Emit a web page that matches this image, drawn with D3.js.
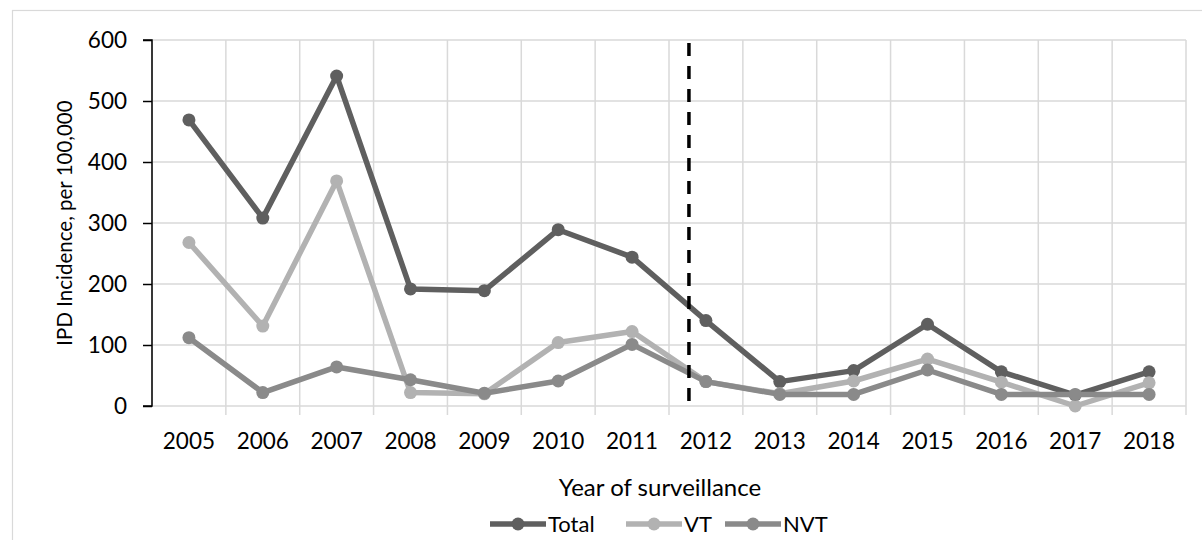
<!DOCTYPE html>
<html>
<head>
<meta charset="utf-8">
<script src="https://d3js.org/d3.v7.min.js"></script>
<style>
  body { margin: 0; background: #fff; }
  text { font-family: Lato, "Open Sans", sans-serif; fill: #000; }
</style>
</head>
<body>
<div id="chart"></div>
<script>
// data
var years = ["2005","2006","2007","2008","2009","2010","2011","2012","2013","2014","2015","2016","2017","2018"];
var total = [469, 308, 541, 192, 189, 289, 244, 140, 40, 58, 134, 56, 18, 56];
var vt    = [268, 131, 369, 22, 20, 104, 122, 40, 20, 41, 77, 39, 0, 38];
var nvt   = [112, 22, 64, 43, 21, 41, 101, 40, 19, 19, 59, 19, 19, 19];
var yTicks = [0, 100, 200, 300, 400, 500, 600];
var seriesNames = ["Total", "VT", "NVT"];
var seriesColors = ["#5f5f5f", "#b2b2b2", "#8a8a8a"];
var policyYear = 2011.77; // dashed marker, between 2011 and 2012

var W = 1202, H = 540;
var margin = {top: 40, right: 16, bottom: 134, left: 152};
var width = 1186 - margin.left, height = 406 - margin.top;

var svg = d3.select("#chart").append("svg")
    .attr("width", W).attr("height", H);

// outer chart border
svg.append("rect")
    .attr("x", 12.5).attr("y", 10.5)
    .attr("width", W + 20).attr("height", H + 20)
    .attr("fill", "none").attr("stroke", "#d9d9d9").attr("stroke-width", 1.2);

var g = svg.append("g").attr("transform", "translate(" + margin.left + "," + margin.top + ")");

var x = d3.scaleBand().domain(years).range([0, width]);
var y = d3.scaleLinear().domain([0, 600]).range([height, 0]);
var cx = function(i) { return x(years[i]) + x.bandwidth() / 2; };

// horizontal grid
g.selectAll(".hgrid").data(yTicks).enter().append("line")
    .attr("x1", 0).attr("x2", width)
    .attr("y1", function(d) { return y(d); }).attr("y2", function(d) { return y(d); })
    .attr("stroke", "#d9d9d9").attr("stroke-width", 1.5);

// vertical grid at category boundaries, with ticks below axis
var bounds = years.map(function(d) { return x(d); }).concat([width]);
g.selectAll(".vgrid").data(bounds).enter().append("line")
    .attr("x1", function(d) { return d; }).attr("x2", function(d) { return d; })
    .attr("y1", 0).attr("y2", function(d, i) { return i === 0 ? height : height + 9; })
    .attr("stroke", "#d9d9d9").attr("stroke-width", 1.5);

// y axis
var yAxis = g.append("g").call(d3.axisLeft(y).tickValues(yTicks).tickSize(9).tickPadding(16));
yAxis.select(".domain").attr("stroke", "#000").attr("stroke-width", 1.5).attr("d", "M-9,0H0V" + height + "H-9");
yAxis.selectAll(".tick line").attr("stroke", "#000").attr("stroke-width", 1.5);
yAxis.selectAll(".tick text").style("font-size", "22.5px").attr("fill", "#000");

// x labels
g.selectAll(".xlab").data(years).enter().append("text")
    .attr("x", function(d, i) { return cx(i); })
    .attr("y", 449 - margin.top)
    .attr("text-anchor", "middle")
    .style("font-size", "22.5px")
    .text(function(d) { return d; });

// lines
var allSeries = [total, vt, nvt];
var line = d3.line().x(function(d, i) { return cx(i); }).y(function(d) { return y(d); });

allSeries.forEach(function(s, k) {
  g.append("path").datum(s)
      .attr("d", line)
      .attr("fill", "none")
      .attr("stroke", seriesColors[k])
      .attr("stroke-width", 5.5)
      .attr("stroke-linejoin", "round");
  g.selectAll(".m" + k).data(s).enter().append("circle")
      .attr("cx", function(d, i) { return cx(i); })
      .attr("cy", function(d) { return y(d); })
      .attr("r", 6.5)
      .attr("fill", seriesColors[k]);
});

// dashed line
var yr = d3.scaleLinear().domain([2005, 2018]).range([cx(0), cx(13)]);
g.append("line")
    .attr("x1", yr(policyYear)).attr("x2", yr(policyYear))
    .attr("y1", 3).attr("y2", height)
    .attr("stroke", "#000").attr("stroke-width", 3.5)
    .attr("stroke-dasharray", "13,10");

// axis titles
svg.append("text")
    .attr("transform", "translate(72," + (margin.top + height / 2) + ") rotate(-90)")
    .attr("text-anchor", "middle")
    .style("font-size", "20.5px")
    .text("IPD Incidence, per 100,000");

svg.append("text")
    .attr("x", 660).attr("y", 496)
    .attr("text-anchor", "middle")
    .style("font-size", "24px")
    .text("Year of surveillance");

// legend
var legX = [490, 626, 725];
var leg = svg.selectAll(".leg").data(seriesNames).enter().append("g")
    .attr("transform", function(d, i) { return "translate(" + legX[i] + ",524)"; });
leg.append("line").attr("x1", 0).attr("x2", 56).attr("y1", 0).attr("y2", 0)
    .attr("stroke", function(d, i) { return seriesColors[i]; }).attr("stroke-width", 5.5);
leg.append("circle").attr("cx", 28).attr("cy", 0).attr("r", 6.5)
    .attr("fill", function(d, i) { return seriesColors[i]; });
leg.append("text").attr("x", 58).attr("y", 8)
    .style("font-size", "22px")
    .text(function(d) { return d; });
</script>
</body>
</html>
